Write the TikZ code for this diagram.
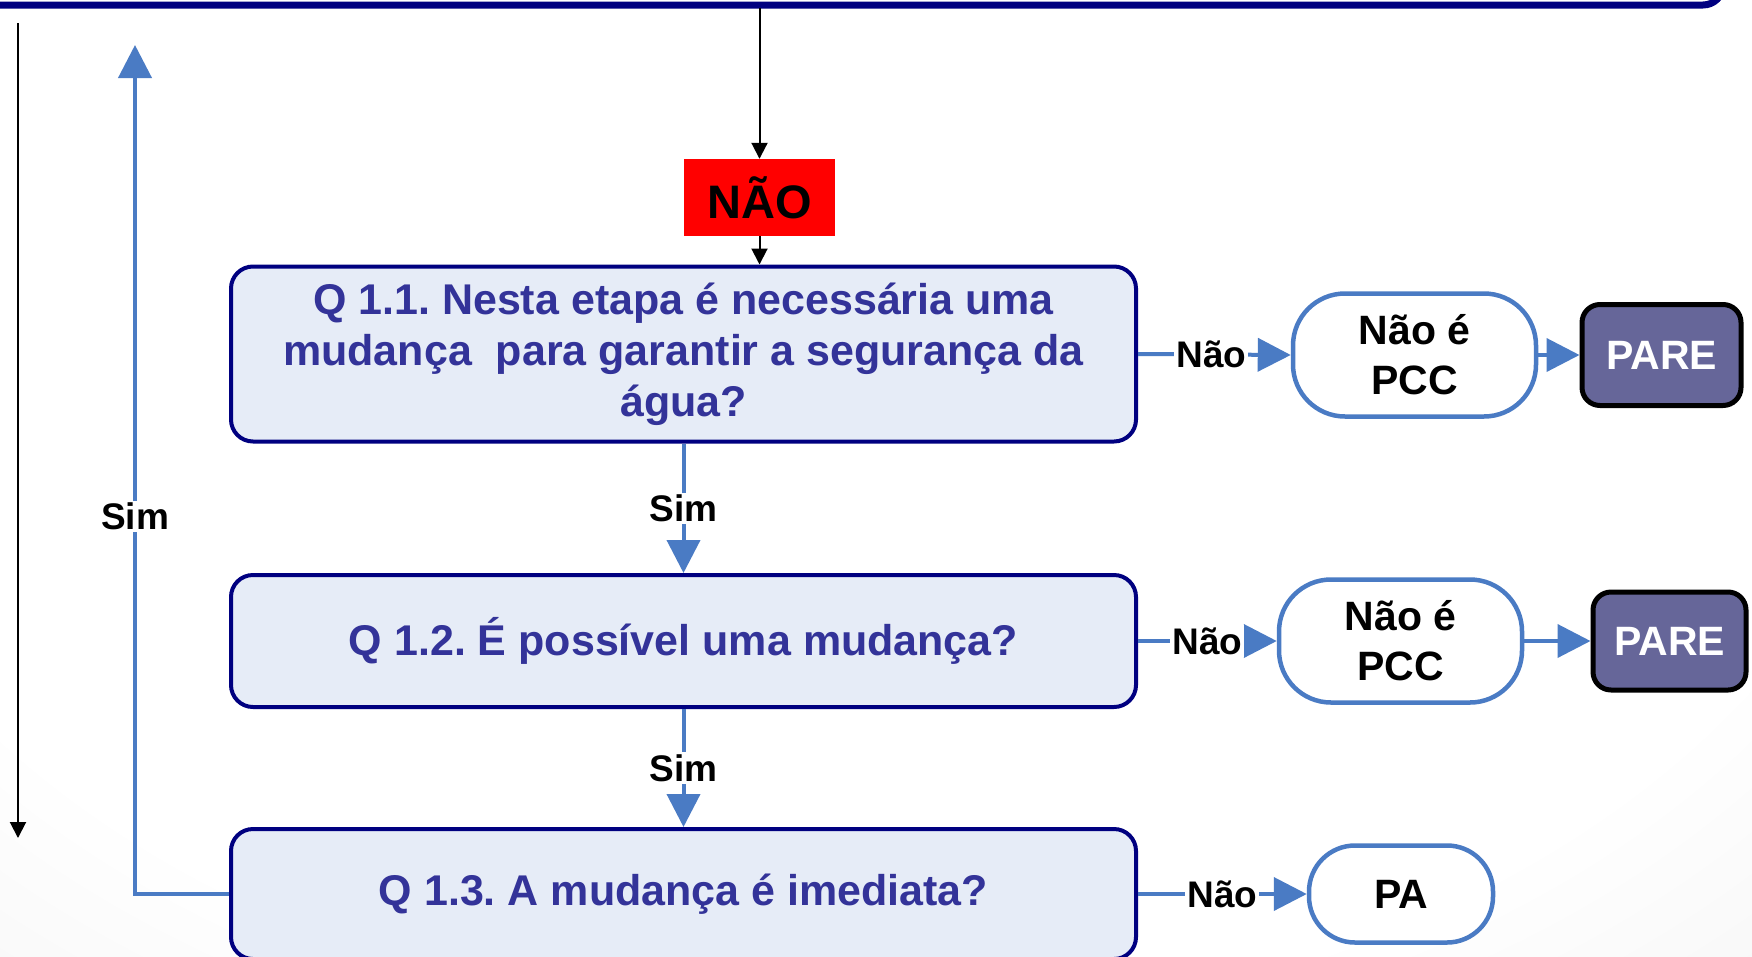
\documentclass[tikz,border=0pt]{standalone}
\usepackage{fontspec}
\setmainfont{Liberation Sans}
\usetikzlibrary{arrows.meta}
\definecolor{navyb}{HTML}{000080}
\definecolor{lineblue}{HTML}{4A7BC4}
\definecolor{qfill}{HTML}{E6ECF7}
\definecolor{qtext}{HTML}{333399}
\definecolor{parefill}{HTML}{666699}
\definecolor{naored}{HTML}{FF0000}
\pgfdeclareradialshading{bgshade}{\pgfpoint{0bp}{0bp}}{color(0bp)=(white); color(18bp)=(white); color(50bp)=(black!18)}
\frenchspacing
\tikzset{
  qbox/.style={draw=navyb, line width=4pt, fill=qfill, rounded corners=22pt,
    text=qtext, font=\bfseries\fontsize{43}{51}\selectfont, align=center,
    inner sep=0pt, minimum width=905pt},
  barrow/.style={draw=lineblue, line width=4pt, -{Triangle[length=33pt,width=33pt]}},
  karrow/.style={draw=black, line width=2pt, -{Triangle[length=16pt,width=16pt]}},
  lbl/.style={fill=white, text=black, font=\bfseries\fontsize{37}{40}\selectfont, inner sep=2pt},
  stad/.style={draw=lineblue, line width=4.5pt, fill=white, rounded corners=52pt,
    minimum width=243pt, minimum height=123pt, align=center, inner sep=0pt,
    font=\bfseries\fontsize{41}{50}\selectfont},
  pare/.style={draw=black, line width=5pt, fill=parefill, rounded corners=18pt,
    text=white, font=\bfseries\fontsize{41}{48}\selectfont,
    minimum width=156pt, minimum height=100pt, inner sep=0pt},
  naobox/.style={fill=naored, text=black, font=\bfseries\fontsize{47}{50}\selectfont,
    minimum width=151pt, minimum height=77pt, inner sep=0pt}
}
\begin{document}
\begin{tikzpicture}[x=1pt,y=-1pt]
\useasboundingbox (0,0) rectangle (1752,956);
\begin{scope}
\clip (0,0) rectangle (1752,956);
\shade[shading=bgshade] (-600,-700) rectangle (2300,1300);
% top bar (bottom edge of an off-canvas box)
\draw[navyb, line width=7pt, rounded corners=20pt] (-50,-200) rectangle (1723,5);

% nodes
\node[naobox] (nao) at (759.5,197.5) {NÃO};
\node[qbox, minimum height=175pt] (q11) at (683.5,354)
  {Q 1.1. Nesta etapa é necessária uma\\mudança\ \ para garantir a segurança da\\água?};
\node[qbox, minimum height=132pt] (q12) at (683.5,641) {Q 1.2. É possível uma mudança?};
\node[qbox, minimum height=130pt] (q13) at (683.5,894) {Q 1.3. A mudança é imediata?};

\node[stad] (s1) at (1414.5,355) {Não é\\PCC};
\node[stad] (s2) at (1400.5,641) {Não é\\PCC};
\node[stad, minimum width=184pt, minimum height=97pt, rounded corners=46pt] (pa) at (1401,894) {PA};
\node[pare, minimum width=159pt, minimum height=101pt] (p1) at (1661.5,355) {PARE};
\node[pare, minimum width=153pt, minimum height=98pt] (p2) at (1669.5,641) {PARE};

% coordinates for free ends
\coordinate (tin) at (759.5,8);
\coordinate (la) at (18,23);
\coordinate (lb) at (18,838);
\coordinate (upc) at (135,894);
\coordinate (uptip) at (135,45);

% black arrows
\draw[karrow] (tin) -- (nao.north);
\draw[karrow] (nao.south) -- (nao.south |- q11.north);
\draw[karrow] (la) -- (lb);

% vertical Sim arrows
\draw[barrow] (q11.south) -- node[lbl]{Sim} (q12.north);
\draw[barrow] (q12.south) -- node[lbl]{Sim} (q13.north);

% Nao arrows
\draw[barrow] (q11.east) -- node[lbl, pos=0.48]{Não} (s1.west);
\draw[barrow] (q12.east) -- node[lbl]{Não} (s2.west);
\draw[barrow] (q13.east) -- node[lbl]{Não} (pa.west);

% to PARE
\draw[barrow] (s1.east) -- (p1.west);
\draw[barrow] (s2.east) -- (p2.west);

% loop back Sim
\draw[barrow, rounded corners=0pt] (q13.west) -- (upc) -- node[lbl, pos=0.445]{Sim} (uptip);
\end{scope}
\end{tikzpicture}
\end{document}
